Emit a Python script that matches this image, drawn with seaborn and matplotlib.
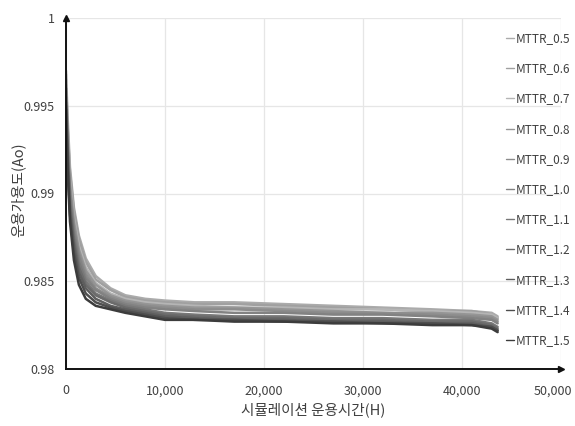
import numpy as np
import pandas as pd
import matplotlib
matplotlib.use("Agg")
import matplotlib.pyplot as plt
import matplotlib.transforms as mtransforms
import seaborn as sns
from matplotlib.ticker import MultipleLocator, FuncFormatter

sns.set_theme(style="white")
plt.rcParams['font.family'] = ['Noto Sans CJK KR', 'DejaVu Sans']

# Simulation hours
hours = [0, 150, 400, 800, 1300, 2000, 3000, 4500, 6000, 8000, 10000,
         13000, 17000, 22000, 27000, 32000, 37000, 41000, 43000, 43600]

mttr_labels = ["MTTR_0.5", "MTTR_0.6", "MTTR_0.7", "MTTR_0.8", "MTTR_0.9", "MTTR_1.0",
               "MTTR_1.1", "MTTR_1.2", "MTTR_1.3", "MTTR_1.4", "MTTR_1.5"]

ao_05 = [0.9970, 0.9945, 0.9915, 0.9892, 0.9876, 0.9863, 0.9853, 0.9846, 0.9842, 0.9840, 0.9839,
         0.9838, 0.9838, 0.9837, 0.9836, 0.9835, 0.9834, 0.9833, 0.9832, 0.9830]
ao_06 = [0.9965, 0.9940, 0.9912, 0.9890, 0.9874, 0.9861, 0.9851, 0.9845, 0.9841, 0.9839, 0.9838,
         0.9837, 0.9837, 0.9836, 0.9835, 0.9834, 0.9833, 0.9833, 0.9831, 0.9829]
ao_07 = [0.9968, 0.9938, 0.9908, 0.9886, 0.9870, 0.9858, 0.9849, 0.9843, 0.9840, 0.9838, 0.9837,
         0.9836, 0.9835, 0.9835, 0.9834, 0.9834, 0.9833, 0.9832, 0.9831, 0.9829]
ao_08 = [0.9962, 0.9935, 0.9905, 0.9884, 0.9868, 0.9856, 0.9848, 0.9842, 0.9839, 0.9837, 0.9836,
         0.9835, 0.9835, 0.9834, 0.9833, 0.9832, 0.9832, 0.9831, 0.9830, 0.9828]
ao_09 = [0.9960, 0.9932, 0.9902, 0.9881, 0.9866, 0.9854, 0.9846, 0.9841, 0.9838, 0.9836, 0.9835,
         0.9834, 0.9834, 0.9833, 0.9832, 0.9832, 0.9831, 0.9830, 0.9829, 0.9827]
ao_10 = [0.9958, 0.9930, 0.9900, 0.9879, 0.9864, 0.9852, 0.9845, 0.9840, 0.9837, 0.9835, 0.9834,
         0.9833, 0.9832, 0.9832, 0.9831, 0.9831, 0.9830, 0.9829, 0.9828, 0.9826]
ao_11 = [0.9960, 0.9928, 0.9897, 0.9876, 0.9861, 0.9850, 0.9843, 0.9839, 0.9836, 0.9834, 0.9832,
         0.9831, 0.9830, 0.9830, 0.9829, 0.9829, 0.9828, 0.9828, 0.9826, 0.9824]
ao_12 = [0.9955, 0.9925, 0.9894, 0.9873, 0.9858, 0.9848, 0.9842, 0.9838, 0.9835, 0.9833, 0.9831,
         0.9830, 0.9829, 0.9829, 0.9828, 0.9828, 0.9827, 0.9827, 0.9825, 0.9823]
ao_13 = [0.9952, 0.9922, 0.9891, 0.9870, 0.9855, 0.9846, 0.9840, 0.9836, 0.9834, 0.9832, 0.9830,
         0.9829, 0.9828, 0.9828, 0.9827, 0.9827, 0.9826, 0.9826, 0.9824, 0.9822]
ao_14 = [0.9950, 0.9918, 0.9888, 0.9866, 0.9852, 0.9843, 0.9838, 0.9835, 0.9833, 0.9831, 0.9829,
         0.9828, 0.9828, 0.9827, 0.9827, 0.9826, 0.9826, 0.9825, 0.9824, 0.9822]
ao_15 = [0.9948, 0.9915, 0.9884, 0.9862, 0.9848, 0.9840, 0.9836, 0.9834, 0.9832, 0.9830, 0.9828,
         0.9828, 0.9827, 0.9827, 0.9826, 0.9826, 0.9825, 0.9825, 0.9823, 0.9821]

series = [ao_05, ao_06, ao_07, ao_08, ao_09, ao_10, ao_11, ao_12, ao_13, ao_14, ao_15]

frames = []
for lab, vals in zip(mttr_labels, series):
    frames.append(pd.DataFrame({"hours": hours, "ao": vals, "MTTR": lab}))
df = pd.concat(frames, ignore_index=True)

greys = ["#ababab", "#a0a0a0", "#b5b5b5", "#969696", "#8c8c8c", "#828282",
         "#787878", "#6b6b6b", "#5e5e5e", "#4e4e4e", "#3c3c3c"]

fig = plt.figure(figsize=(5.75, 4.26), dpi=100)
ax = fig.add_axes([66 / 575, 1 - 369 / 426, (561 - 66) / 575, (369 - 18) / 426])

sns.lineplot(data=df, x="hours", y="ao", hue="MTTR", palette=greys, linewidth=1.8,
             ax=ax, legend=True)

ax.set_xlim(0, 50000)
ax.set_ylim(0.98, 1.0)
ax.xaxis.set_major_locator(MultipleLocator(10000))
ax.xaxis.set_minor_locator(MultipleLocator(5000))
ax.yaxis.set_major_locator(MultipleLocator(0.005))
ax.yaxis.set_minor_locator(MultipleLocator(0.0025))
ax.xaxis.set_major_formatter(FuncFormatter(lambda v, p: f"{v:,.0f}"))
ax.yaxis.set_major_formatter(FuncFormatter(lambda v, p: f"{v:g}"))

ax.grid(True, which="major", color="#e6e6e6", linewidth=0.9)
ax.set_axisbelow(True)
for side in ["top", "right"]:
    ax.spines[side].set_visible(False)
for side in ["left", "bottom"]:
    ax.spines[side].set_color("#111111")
    ax.spines[side].set_linewidth(1.4)

ax.tick_params(which="major", direction="in", length=8, width=1.4, color="#111111",
               labelsize=9, labelcolor="#404040")
ax.tick_params(which="minor", direction="in", length=5, width=1.2, color="#111111")
ax.tick_params(axis="y", which="major", pad=8)
ax.tick_params(axis="x", which="major", pad=11)

# axis arrow heads
ax.plot(0, 1, marker="^", color="#111111", markersize=4, transform=ax.transAxes, clip_on=False)
ax.plot(1, 0, marker=">", color="#111111", markersize=4, transform=ax.transAxes, clip_on=False)

ax.set_xlabel("시뮬레이션 운용시간(H)", fontsize=10.5, color="#404040")
ax.set_ylabel("운용가용도(Ao)", fontsize=10.5, color="#404040")
ax.xaxis.set_label_coords(0.5, -0.094)
ax.yaxis.set_label_coords(-0.082, 0.51)

handles, labels = ax.get_legend_handles_labels()
leg = ax.legend(handles, labels, loc="upper left", bbox_to_anchor=(0.867, 0.99), frameon=False,
                fontsize=8.5, handlelength=0.7, handletextpad=0.15, labelspacing=1.455,
                labelcolor="#404040")
for ln in leg.get_lines():
    ln.set_linewidth(1.0)

# nudge the 50,000 label left so it stays inside the figure
fig.canvas.draw()
shift = mtransforms.ScaledTranslation(-8 / 100, 0, fig.dpi_scale_trans)
for tick in ax.xaxis.get_major_ticks():
    if tick.label1.get_text() == "50,000":
        tick.label1.set_transform(tick.label1.get_transform() + shift)

fig.savefig("out.png", dpi=100)
